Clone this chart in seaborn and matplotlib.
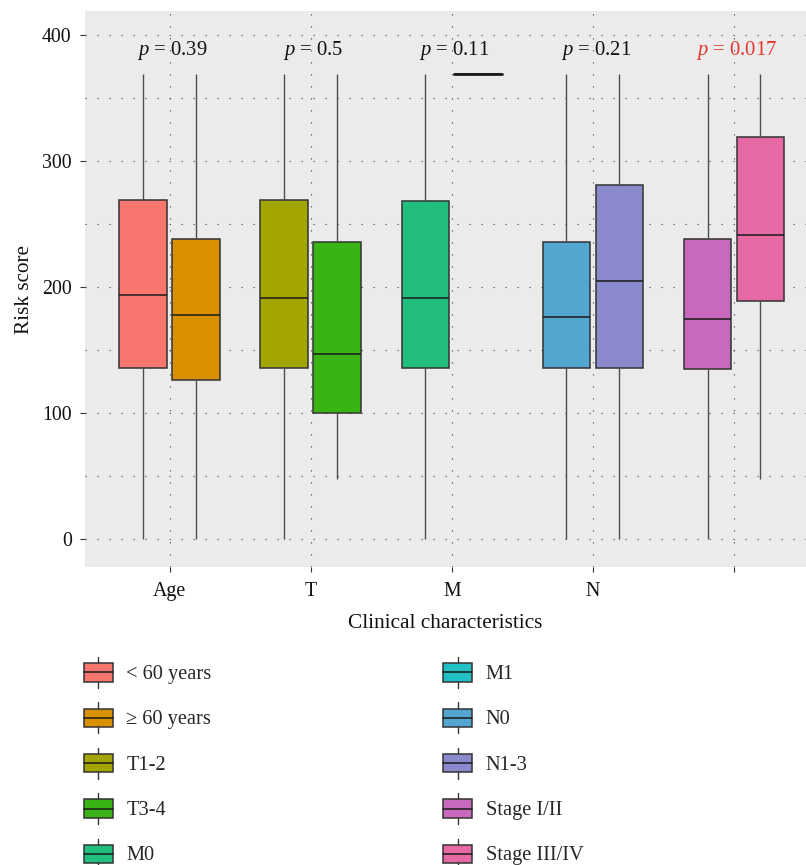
import numpy as np
import pandas as pd
import matplotlib
matplotlib.use("Agg")
import matplotlib.pyplot as plt
from matplotlib.patches import Rectangle, Patch
from matplotlib.lines import Line2D
from matplotlib.legend_handler import HandlerBase
from matplotlib.ticker import MultipleLocator
import seaborn as sns

# ---- data: five-number summaries of the risk score per clinical subgroup ----
characteristics = ["Age", "T", "M", "N", ""]
groups = ["< 60 years", "\u2265 60 years", "T1-2", "T3-4", "M0", "M1",
          "N0", "N1-3", "Stage I/II", "Stage III/IV"]
group_char = [0, 0, 1, 1, 2, 2, 3, 3, 4, 4]
group_slot = [0, 1, 0, 1, 0, 1, 0, 1, 0, 1]
whisker_low = [0, 0, 0, 48, 0, 369, 0, 0, 0, 48]
q1 = [136, 126, 136, 100, 136, 369, 136, 136, 135, 189]
median = [194, 178, 191, 147, 191, 369, 176, 205, 175, 241]
q3 = [269, 238, 269, 236, 268, 369, 236, 281, 238, 319]
whisker_high = [369, 369, 369, 369, 369, 369, 369, 369, 369, 369]
p_values = ["0.39", "0.5", "0.11", "0.21", "0.017"]
p_significant = [False, False, False, False, True]
palette = ["#F8766D", "#D89000", "#A3A500", "#39B414", "#22BE7E",
           "#22BFC4", "#54A5D0", "#8C8ACE", "#C869BE", "#E669A5"]

# ---- long table: one row per summary value, placed at its dodged slot ----
dodge = 0.1875
rows = []
for i, g in enumerate(groups):
    pos = group_char[i] + (-dodge if group_slot[i] == 0 else dodge)
    for v in (whisker_low[i], q1[i], median[i], q3[i], whisker_high[i]):
        rows.append({"pos": pos, "group": g, "score": v})
df = pd.DataFrame(rows)

# ---- style ----
sns.set_theme(style="white")
serif = ["Liberation Serif", "DejaVu Serif"]
plt.rcParams["font.family"] = serif
plt.rcParams["mathtext.fontset"] = "custom"
plt.rcParams["mathtext.it"] = "Liberation Serif:italic"
plt.rcParams["mathtext.rm"] = "Liberation Serif"

fig = plt.figure(figsize=(8.06, 8.65), dpi=100)
ax = fig.add_axes([85 / 806, 1 - 567 / 865, 1 - 85 / 806, (567 - 11) / 865])
ax.set_facecolor("#EBEBEB")

edge = "#333333"
sns.boxplot(
    data=df, x="pos", y="score", hue="group", hue_order=groups,
    palette=palette, saturation=1, native_scale=True, dodge=False, width=0.9,
    whis=(0, 100), showfliers=False, showcaps=False,
    boxprops=dict(edgecolor=edge, linewidth=1.1),
    whiskerprops=dict(color="#4d4d4d", linewidth=1.0),
    medianprops=dict(color="#1a1a1a", linewidth=1.1),
    ax=ax, zorder=3,
)

# a group with no spread collapses to a flat bar; draw it as a thick rounded line
for p in ax.patches:
    if p.get_path().get_extents().height < 1e-6:
        p.set_linewidth(2.1)
        p.set_edgecolor("#2a2a2a")
        p.set_capstyle("round")
        p.set_joinstyle("round")

ax.set_xlim(-0.6, 4.51)
ax.set_ylim(-22, 419)
ax.set_xticks(range(len(characteristics)))
ax.set_xticklabels(characteristics)
ax.yaxis.set_major_locator(MultipleLocator(100))
ax.yaxis.set_minor_locator(MultipleLocator(50))

grid_kw = dict(color="#555555", linewidth=0.8, linestyle=(0, (1.2, 9.6)))
ax.grid(True, which="major", axis="both", **grid_kw)
ax.grid(True, which="minor", axis="y", **grid_kw)
ax.set_axisbelow(True)
for s in ax.spines.values():
    s.set_visible(False)

ax.tick_params(axis="both", which="major", length=3.6, width=0.8,
               color="#333333", labelsize=14.3, labelcolor="#111111",
               bottom=True, left=True)
ax.tick_params(axis="y", pad=6)
ax.tick_params(axis="x", pad=7)
ax.tick_params(axis="both", which="minor", length=0)

ax.set_xlabel("Clinical characteristics", fontsize=15.3, labelpad=9.5, color="#111111")
ax.set_ylabel("Risk score", fontsize=15.3, labelpad=6, color="#111111")

# ---- p-values above each characteristic ----
for i, (p, sig) in enumerate(zip(p_values, p_significant)):
    ax.text(i + 0.02, 388, r"$p$ = " + p, ha="center", va="center", fontsize=14.9,
            color="#E8352C" if sig else "#111111", zorder=4)

# ---- legend with box-shaped keys ----
class BoxKey(HandlerBase):
    def create_artists(self, legend, orig_handle, xdescent, ydescent,
                       width, height, fontsize, trans):
        fc = orig_handle.get_facecolor()
        x0, ybase = -xdescent, -ydescent
        box_h = height * 0.6
        y0 = ybase + (height - box_h) / 2
        cx = x0 + width / 2
        lo = Line2D([cx, cx], [ybase, y0], color="#333333", lw=1.0, transform=trans)
        hi = Line2D([cx, cx], [y0 + box_h, ybase + height], color="#333333",
                    lw=1.0, transform=trans)
        box = Rectangle((x0, y0), width, box_h, facecolor=fc, edgecolor=edge,
                        lw=1.1, transform=trans)
        med = Line2D([x0, x0 + width], [y0 + box_h / 2] * 2, color="#1a1a1a",
                     lw=1.1, transform=trans)
        return [lo, hi, box, med]

if ax.get_legend() is not None:
    ax.get_legend().remove()
handles = [Patch(facecolor=c) for c in palette]
fig.legend(handles, groups, handler_map={Patch: BoxKey()}, ncol=2,
           loc="upper left", bbox_to_anchor=(84 / 806, 1 - 657 / 865),
           bbox_transform=fig.transFigure, frameon=False, borderpad=0,
           fontsize=14.7, handlelength=1.42, handleheight=1.95,
           labelspacing=0.71, handletextpad=0.66, columnspacing=11.33,
           borderaxespad=0)

fig.savefig("out.png", dpi=100)
